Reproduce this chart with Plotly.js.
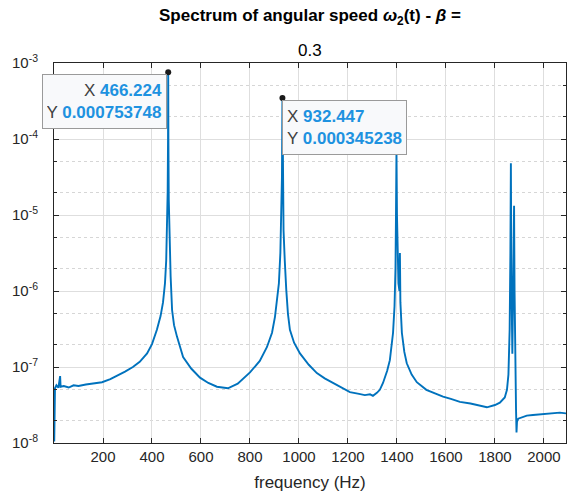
<!DOCTYPE html>
<html><head><meta charset="utf-8">
<script src="https://cdn.plot.ly/plotly-3.0.1.min.js"></script>
<style>html,body{margin:0;padding:0;background:#fff}#chart{width:568px;height:495px}</style>
</head><body><div id="chart"></div>
<script>
// Spectrum (frequency in Hz, amplitude)
const freq = [1, 4, 10, 18, 25, 27, 40, 60, 80, 100, 130, 160, 196, 230, 257, 290, 322, 350, 380, 400, 420, 435, 445, 453, 458, 462, 464, 465.5, 466.224, 467, 468.5, 471, 476, 482, 490, 502, 515, 527, 560, 596, 630, 665, 710, 750, 800, 840, 869, 890, 902, 912, 918, 924, 928, 930.5, 932.447, 934, 937, 942, 946, 947, 948, 955, 963, 980, 1004, 1040, 1073, 1105, 1139, 1175, 1208, 1240, 1269, 1290, 1302, 1318, 1330, 1343, 1360, 1371, 1380, 1384, 1390, 1394, 1396, 1398, 1400, 1403, 1406, 1410, 1412, 1414, 1420, 1430, 1440, 1460, 1481, 1520, 1560, 1588, 1620, 1657, 1700, 1740, 1767, 1800, 1820, 1840, 1849, 1855, 1860, 1863, 1865, 1867, 1871, 1876, 1878, 1880, 1883, 1886, 1888, 1890, 1895, 1910, 1930, 1955, 1990, 2030, 2065, 2090];
const amp = [1.05e-8, 5.25e-8, 5.75e-8, 5.37e-8, 7.59e-8, 5.5e-8, 5.62e-8, 5.37e-8, 5.75e-8, 5.62e-8, 5.89e-8, 6.03e-8, 6.31e-8, 6.92e-8, 7.59e-8, 8.71e-8, 1.0e-7, 1.17e-7, 1.51e-7, 2.0e-7, 3.09e-7, 4.68e-7, 7.08e-7, 1.26e-6, 2.51e-6, 7.08e-6, 2.0e-5, 1.0e-4, 7.53748e-4, 1.0e-4, 1.58e-5, 5.01e-6, 1.58e-6, 5.62e-7, 3.55e-7, 2.51e-7, 1.78e-7, 1.35e-7, 9.55e-8, 7.24e-8, 6.17e-8, 5.5e-8, 5.25e-8, 6.03e-8, 8.51e-8, 1.2e-7, 1.82e-7, 2.82e-7, 4.57e-7, 7.94e-7, 1.26e-6, 3.16e-6, 1.0e-5, 3.16e-5, 3.45238e-4, 3.16e-5, 6.31e-6, 2.51e-6, 1.26e-6, 1.58e-6, 1.05e-6, 5.01e-7, 3.09e-7, 2.09e-7, 1.51e-7, 1.07e-7, 8.32e-8, 7.08e-8, 6.17e-8, 5.25e-8, 4.68e-8, 4.47e-8, 4.27e-8, 4.37e-8, 4.17e-8, 4.57e-8, 5.01e-8, 6.17e-8, 8.91e-8, 1.23e-7, 2.0e-7, 2.82e-7, 6.31e-7, 2.0e-6, 1.0e-5, 7.08e-5, 1.0e-5, 2.51e-6, 1.26e-6, 1.0e-6, 3.16e-6, 7.08e-7, 2.82e-7, 1.58e-7, 1.12e-7, 7.94e-8, 6.31e-8, 5.01e-8, 4.37e-8, 4.07e-8, 3.8e-8, 3.47e-8, 3.31e-8, 3.09e-8, 2.95e-8, 3.16e-8, 3.39e-8, 3.98e-8, 5.01e-8, 7.94e-8, 3.16e-7, 3.16e-6, 4.79e-5, 1.58e-6, 1.5e-7, 3.16e-6, 1.32e-5, 1.0e-6, 6.31e-8, 2.82e-8, 1.38e-8, 1.91e-8, 2.09e-8, 2.19e-8, 2.29e-8, 2.34e-8, 2.4e-8, 2.45e-8, 2.51e-8, 2.45e-8];

// Data tips
const tipX = [466.224, 932.447];
const tipY = [0.000753748, 0.000345238];
const tipXText = ["466.224", "932.447"];
const tipYText = ["0.000753748", "0.000345238"];

// Axis ticks
const xTicks = [200, 400, 600, 800, 1000, 1200, 1400, 1600, 1800, 2000];
const yTicks = [1e-8, 1e-7, 1e-6, 1e-5, 1e-4, 1e-3];
const yTickText = ["10<sup>-8</sup>", "10<sup>-7</sup>", "10<sup>-6</sup>", "10<sup>-5</sup>", "10<sup>-4</sup>", "10<sup>-3</sup>"];

const FONT = "Liberation Sans, Arial, Helvetica, sans-serif";
const AX = "#262626";

const traces = [
  {x: freq, y: amp, type: "scatter", mode: "lines",
   line: {color: "#0072BD", width: 1.9}, hoverinfo: "skip"},
  {x: tipX, y: tipY, type: "scatter", mode: "markers",
   marker: {color: "#1a1a1a", size: 6}, hoverinfo: "skip"}
];

const tipStyle = {showarrow: false, xref: "x", yref: "y", bgcolor: "#f8f9fb",
  bordercolor: "#9a9a9a", borderwidth: 1, borderpad: 4, width: 115, height: 45,
  yanchor: "top", font: {family: FONT, size: 17, color: "#1e92e0"}};

const annotations = [
  {text: "<b>Spectrum of angular speed <i>ω</i><sub>2</sub>(t) - <i>β</i> =</b>",
   xref: "paper", yref: "paper", x: 0.5, y: 1.121, yanchor: "middle", showarrow: false,
   font: {family: FONT, size: 17, color: "#000"}},
  {text: "0.3", xref: "paper", yref: "paper", x: 0.5, y: 1.034, yanchor: "middle",
   showarrow: false, font: {family: FONT, size: 17, color: "#000"}},
  Object.assign({}, tipStyle, {x: tipX[0], y: Math.log10(tipY[0]), xanchor: "right", align: "right",
   yshift: -2, xshift: -1,
   text: "<span style='color:#404040'>X</span> <b>" + tipXText[0] + "</b><br><span style='color:#404040'>Y</span> <b>" + tipYText[0] + "</b>"}),
  Object.assign({}, tipStyle, {x: tipX[1], y: Math.log10(tipY[1]), xanchor: "left", align: "left",
   yshift: -2, xshift: 0,
   text: "<span style='color:#404040'>X</span> <b>" + tipXText[1] + "</b><br><span style='color:#404040'>Y</span> <b>" + tipYText[1] + "</b>"})
];

const layout = {
  width: 568, height: 495,
  margin: {l: 54, r: 2, t: 63, b: 52},
  paper_bgcolor: "#ffffff", plot_bgcolor: "#ffffff",
  showlegend: false,
  font: {family: FONT, size: 15, color: AX},
  xaxis: {
    range: [0, 2090], tickvals: xTicks, ticks: "inside", ticklen: 5, tickcolor: AX,
    showline: true, linecolor: AX, linewidth: 1, mirror: "ticks",
    showgrid: true, gridcolor: "#dedede", gridwidth: 1, zeroline: false,
    tickfont: {family: FONT, size: 15, color: AX},
    title: {text: "frequency (Hz)", standoff: 12, font: {family: FONT, size: 17, color: AX}}
  },
  yaxis: {
    type: "log", range: [-8, -3], tickvals: yTicks, ticktext: yTickText,
    ticks: "inside", ticklen: 5, tickcolor: AX, ticklabelstandoff: 12,
    showline: true, linecolor: AX, linewidth: 1, mirror: "ticks",
    showgrid: true, gridcolor: "#dedede", gridwidth: 1, zeroline: false,
    tickfont: {family: FONT, size: 15, color: AX},
    minor: {ticks: "inside", ticklen: 3, tickcolor: AX, showgrid: true,
            gridcolor: "#d6d6d6", griddash: "dot", gridwidth: 1}
  },
  annotations: annotations
};

Plotly.newPlot("chart", traces, layout, {staticPlot: true, displayModeBar: false});
</script>
</body></html>
